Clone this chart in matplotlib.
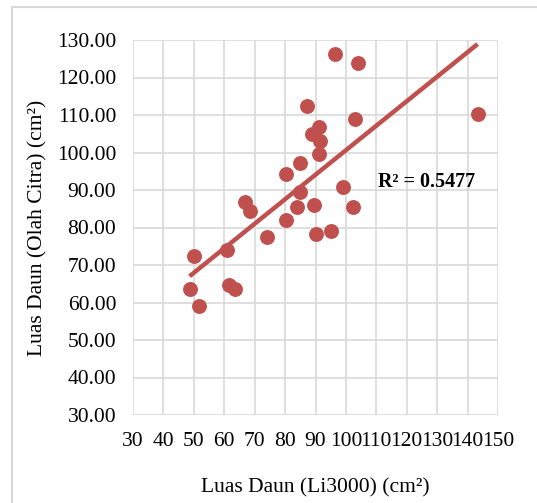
import numpy as np
import matplotlib.pyplot as plt
from matplotlib.patches import Rectangle

# Luas daun: Li3000 vs olah citra
li3000 = [96.3, 104.1, 87.3, 143.3, 102.9, 91.1, 88.7, 91.5, 91.0, 85.0,
          80.3, 99.2, 84.9, 83.9, 89.4, 102.3, 66.9, 68.4, 80.2, 95.1,
          90.0, 74.2, 60.9, 50.0, 61.5, 63.5, 48.6, 51.6]
olah_citra = [126.4, 124.0, 112.5, 110.4, 109.0, 106.9, 104.9, 103.2, 99.7, 97.1,
              94.4, 90.8, 89.5, 85.6, 86.0, 85.6, 86.8, 84.4, 82.0, 79.2,
              78.2, 77.4, 73.9, 72.4, 64.7, 63.6, 63.6, 59.0]
r2_label = 'R² = 0.5477'

plt.rcParams['font.family'] = ['Liberation Serif', 'DejaVu Serif']

fig = plt.figure(figsize=(5.37, 5.03), dpi=100)
fig.patches.append(Rectangle((12 / 537, -0.05), 1.0, 1 - 7 / 503 + 0.05, transform=fig.transFigure,
                             fill=False, edgecolor='#d9d9d9', linewidth=1.5))
ax = fig.add_axes([133 / 537, 1 - 415 / 503, 365 / 537, 375 / 503])

red = '#c0504d'
x = np.array(li3000)
y = np.array(olah_citra)
m, b = np.polyfit(x, y, 1)
xs = np.array([x.min(), x.max()])
ax.plot(xs, m * xs + b, color=red, linewidth=3.2, solid_capstyle='butt', zorder=3)
ax.scatter(x, y, s=115, color=red, linewidths=0, zorder=4)

ax.set_xlim(30, 150)
ax.set_ylim(30, 130)
ax.set_xticks(np.arange(30, 151, 10))
ax.set_yticks(np.arange(30, 131, 10))
ax.set_yticklabels([f'{v:.2f}' for v in np.arange(30, 131, 10)])
ax.grid(True, color='#d9d9d9', linewidth=1.2)
ax.set_axisbelow(True)
for s in ax.spines.values():
    s.set_visible(False)
ax.tick_params(length=0, labelsize=15.5, colors='#000000')
ax.tick_params(axis='x', pad=12)
ax.tick_params(axis='y', pad=12)

ax.text(110.5, 92.1, r2_label, fontsize=14.5, fontweight='bold', ha='left', va='center')
ax.set_xlabel('Luas Daun (Li3000) (cm²)', fontsize=15.5, labelpad=20)
ax.set_ylabel('Luas Daun (Olah Citra) (cm²)', fontsize=15.5, labelpad=7)

plt.savefig('out.png', dpi=100)
